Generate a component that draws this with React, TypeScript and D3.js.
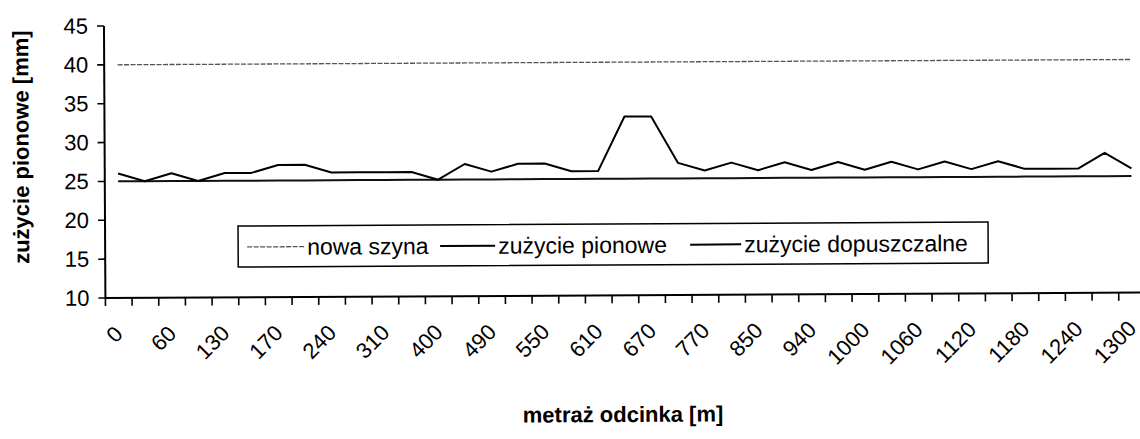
import React from "react";
import * as d3 from "d3";

// Categories (metraż odcinka [m]); only every second one is labelled on the axis.
const categories = [
  "0", "30", "60", "100", "130", "150", "170", "200", "240", "280",
  "310", "350", "400", "450", "490", "520", "550", "580", "610", "640",
  "670", "720", "770", "810", "850", "900", "940", "970", "1000", "1030",
  "1060", "1090", "1120", "1150", "1180", "1210", "1240", "1270", "1300",
];

const nowaSzyna = [
  40, 40, 40, 40, 40, 40, 40, 40, 40, 40,
  40, 40, 40, 40, 40, 40, 40, 40, 40, 40,
  40, 40, 40, 40, 40, 40, 40, 40, 40, 40,
  40, 40, 40, 40, 40, 40, 40, 40, 40,
];

const zuzyciePionowe = [
  26, 25, 26, 25, 26, 26, 27, 27, 26, 26,
  26, 26, 25, 27, 26, 27, 27, 26, 26, 33,
  33, 27, 26, 27, 26, 27, 26, 27, 26, 27,
  26, 27, 26, 27, 26, 26, 26, 28, 26,
];

const zuzycieDopuszczalne = [
  25, 25, 25, 25, 25, 25, 25, 25, 25, 25,
  25, 25, 25, 25, 25, 25, 25, 25, 25, 25,
  25, 25, 25, 25, 25, 25, 25, 25, 25, 25,
  25, 25, 25, 25, 25, 25, 25, 25, 25,
];

const yTicks = [10, 15, 20, 25, 30, 35, 40, 45];

const seriesNames = ["nowa szyna", "zużycie pionowe", "zużycie dopuszczalne"];
const yTitle = "zużycie pionowe [mm]";
const xTitle = "metraż odcinka [m]";

const FONT = "'Liberation Sans', Arial, sans-serif";

export default function App() {
  const W = 1140;
  const H = 439;
  const left = 105;
  const right = 1145;
  const top = 23.3;
  const bottom = 295.3;

  const x = d3.scaleBand<string>().domain(categories).range([left, right]).paddingInner(0).paddingOuter(0);
  const bw = x.bandwidth();
  const cx = (i: number) => (x(categories[i]) as number) + bw / 2;
  const y = d3.scaleLinear().domain([10, 45]).range([bottom, top]);

  const line = d3
    .line<number>()
    .x((_, i) => cx(i))
    .y((d) => y(d));

  const xTickPos = d3.range(categories.length + 1).map((i) => left + i * bw);

  const legendY = 245;
  const legend = [
    { name: seriesNames[0], x0: 247, x1: 304, style: "thin" },
    { name: seriesNames[1], x0: 440, x1: 495, style: "thick" },
    { name: seriesNames[2], x0: 690, x1: 741, style: "thick" },
  ];

  return (
    <svg
      width={W}
      height={H}
      style={{ position: "absolute", left: 0, top: 0, background: "#fff" }}
      fontFamily={FONT}
    >
      <rect x={0} y={0} width={W} height={H} fill="#fff" />
      <g transform="rotate(-0.3, 620, 220)">
        {/* Series */}
        <path d={line(nowaSzyna) || ""} fill="none" stroke="#555" strokeWidth={1.3} strokeDasharray="5 1.5" />
        <path d={line(zuzycieDopuszczalne) || ""} fill="none" stroke="#111" strokeWidth={2} />
        <path d={line(zuzyciePionowe) || ""} fill="none" stroke="#000" strokeWidth={2} strokeLinejoin="round" />

        {/* Y axis */}
        <line x1={left} x2={left} y1={y(45)} y2={bottom} stroke="#000" strokeWidth={2} />
        {yTicks.map((t) => (
          <g key={t}>
            <line x1={left - 7} x2={left} y1={y(t)} y2={y(t)} stroke="#000" strokeWidth={1.6} />
            <text x={89} y={y(t)} textAnchor="end" dominantBaseline="central" fontSize={22} fill="#000">
              {t}
            </text>
          </g>
        ))}

        {/* X axis */}
        <line x1={left} x2={right} y1={bottom} y2={bottom} stroke="#000" strokeWidth={2} />
        {xTickPos.map((p, i) => (
          <line key={i} x1={p} x2={p} y1={bottom} y2={bottom + 8} stroke="#000" strokeWidth={1.6} />
        ))}
        {categories.map((c, i) =>
          i % 2 === 0 ? (
            <text
              key={c}
              transform={`translate(${cx(i)}, ${bottom + 32}) rotate(-45)`}
              textAnchor="end"
              dominantBaseline="central"
              fontSize={22}
              fill="#000"
            >
              {c}
            </text>
          ) : null
        )}

        {/* Axis titles */}
        <text
          transform={`translate(29, 144) rotate(-90)`}
          textAnchor="middle"
          fontSize={22}
          fontWeight="bold"
          fill="#000"
        >
          {yTitle}
        </text>
        <text x={622} y={422} textAnchor="middle" fontSize={22} fontWeight="bold" fill="#000">
          {xTitle}
        </text>

        {/* Legend */}
        <rect x={238} y={224} width={750} height={41} fill="#fff" stroke="#000" strokeWidth={1.5} />
        {legend.map((l) => (
          <g key={l.name}>
            <line
              x1={l.x0}
              x2={l.x1}
              y1={legendY}
              y2={legendY}
              stroke={l.style === "thin" ? "#555" : "#000"}
              strokeWidth={l.style === "thin" ? 1.3 : 2}
              strokeDasharray={l.style === "thin" ? "5 1.5" : undefined}
            />
            <text x={l.x1 + 3} y={legendY} dominantBaseline="central" fontSize={23} fill="#000">
              {l.name}
            </text>
          </g>
        ))}
      </g>
    </svg>
  );
}
